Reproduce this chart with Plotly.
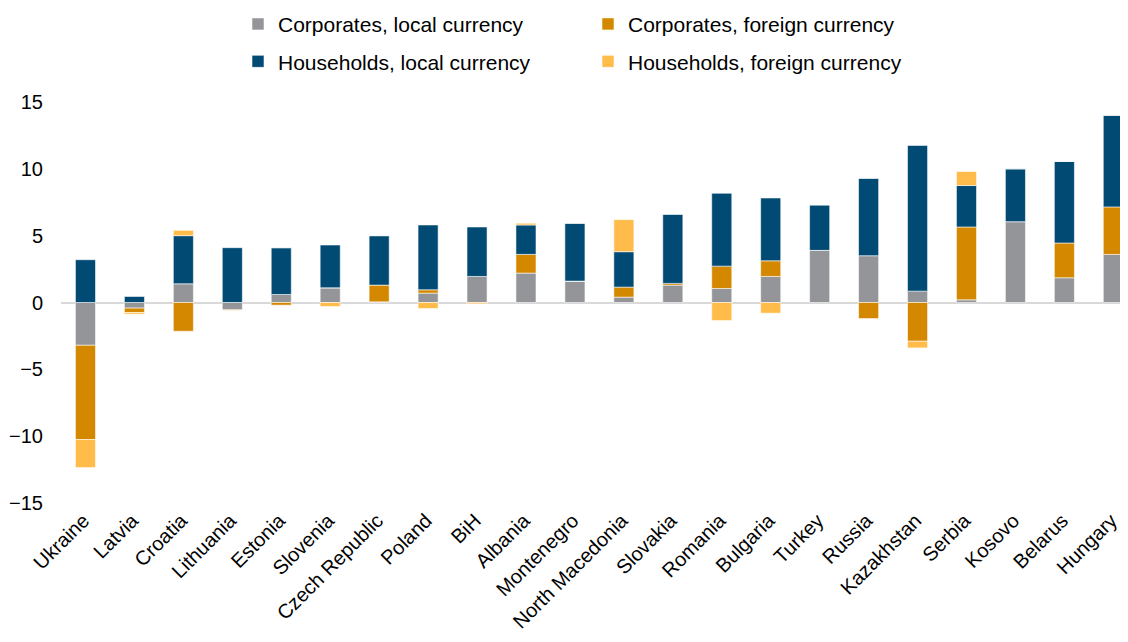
import plotly.graph_objects as go

countries = ["Ukraine", "Latvia", "Croatia", "Lithuania", "Estonia", "Slovenia",
             "Czech Republic", "Poland", "BiH", "Albania", "Montenegro",
             "North Macedonia", "Slovakia", "Romania", "Bulgaria", "Turkey",
             "Russia", "Kazakhstan", "Serbia", "Kosovo", "Belarus", "Hungary"]

corp_local = [-3.2, -0.42, 1.4, -0.55, 0.6, 1.1, 0.05, 0.7, 1.95, 2.2, 1.6,
              0.4, 1.3, 1.05, 1.95, 3.9, 3.5, 0.85, 0.2, 6.05, 1.85, 3.6]
corp_fx = [-7.05, -0.33, -2.15, 0.0, -0.2, 0.0, 1.25, 0.25, 0.0, 1.4, 0.0,
           0.75, 0.13, 1.67, 1.17, 0.0, -1.2, -2.9, 5.45, 0.0, 2.6, 3.55]
hh_local = [3.2, 0.45, 3.6, 4.1, 3.5, 3.2, 3.7, 4.85, 3.7, 2.2, 4.33,
            2.65, 5.18, 5.45, 4.7, 3.4, 5.8, 10.9, 3.1, 3.95, 6.1, 6.85]
hh_fx = [-2.1, -0.12, 0.4, -0.05, 0.0, -0.3, 0.0, -0.45, -0.1, 0.13, 0.0,
         2.4, 0.0, -1.35, -0.8, 0.0, 0.0, -0.5, 1.05, 0.0, 0.0, 0.0]

series_names = ["Corporates, local currency", "Corporates, foreign currency",
                "Households, local currency", "Households, foreign currency"]
series_values = [corp_local, corp_fx, hh_local, hh_fx]
colors = ["#939598", "#D48800", "#004A73", "#FFBC4B"]
legend_ids = ["legend", "legend2", "legend3", "legend4"]

FONT = "Liberation Sans, Arial, sans-serif"

fig = go.Figure()
for name, vals, col, lg in zip(series_names, series_values, colors, legend_ids):
    fig.add_trace(go.Bar(
        x=countries, y=vals, name=name, legend=lg, showlegend=True,
        marker=dict(color=col, line=dict(color="rgba(255,255,255,0.7)", width=0.8)),
    ))

W, H = 1128, 642
# the page adds an 8 px body margin, so figure coordinates are 8 px up/left
row_y = [16.3, 16.3, 53.7, 53.7]
text_x = [270, 620, 270, 620]

legend_common = dict(font=dict(family=FONT, size=21, color="#000000"),
                     bgcolor="rgba(0,0,0,0)", borderwidth=0, itemwidth=30,
                     xref="container", yref="container",
                     xanchor="left", yanchor="middle", orientation="h",
                     itemclick=False, itemdoubleclick=False)
legends = {}
for lg, ty, tx in zip(legend_ids, row_y, text_x):
    legends[lg] = dict(legend_common, x=(tx - 40) / W, y=1 - ty / H)

fig.update_layout(
    width=W, height=H, showlegend=True,
    barmode="relative", bargap=0.59,
    plot_bgcolor="white", paper_bgcolor="white",
    margin=dict(l=53, r=8, t=94, b=147, autoexpand=False),
    font=dict(family=FONT, color="#000000"),
    **legends,
)
fig.update_xaxes(
    range=[-0.5, 21.3], tickangle=-45, showgrid=False, showline=False,
    ticks="", tickfont=dict(family=FONT, size=20, color="#000000"),
    ticklabelstandoff=1, ticklabelshift=-2, automargin=False,
)
fig.update_yaxes(
    range=[-15, 15], tickvals=[-15, -10, -5, 0, 5, 10, 15], showgrid=False,
    showline=False, zeroline=True, zerolinecolor="#d9d9d9", zerolinewidth=2,
    ticks="", tickfont=dict(family=FONT, size=20, color="#000000"),
    ticklabelstandoff=17, automargin=False,
)

fig.write_html("out.html")
